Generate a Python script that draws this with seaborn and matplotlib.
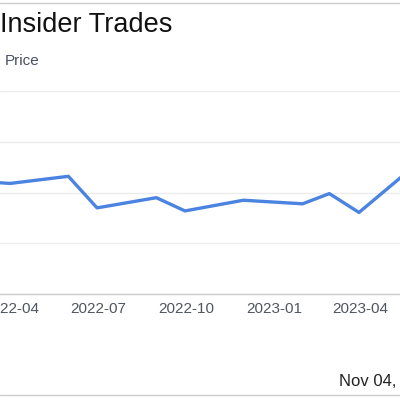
import pandas as pd
import numpy as np
import matplotlib
matplotlib.use("Agg")
import matplotlib.pyplot as plt
import matplotlib.dates as mdates
from matplotlib.lines import Line2D
import seaborn as sns

# Price series (month-end closes)
dates = ["2022-02-28", "2022-03-31", "2022-05-31", "2022-06-30", "2022-08-31",
         "2022-09-30", "2022-11-30", "2023-01-31", "2023-02-28", "2023-03-31",
         "2023-05-31"]
prices = [22.2, 21.8, 23.2, 17.0, 19.0, 16.4, 18.5, 17.8, 19.8, 16.1, 25.7]

price_df = pd.DataFrame({"Date": pd.to_datetime(dates), "Price": prices})

sns.set_style("white")
plt.rcParams['font.family'] = ['Liberation Sans', 'DejaVu Sans']

fig = plt.figure(figsize=(4, 4), dpi=100)
# the visible window is a crop of a wider chart
ax = fig.add_axes([0.0, 0.264, 1.0, 0.509])

sns.lineplot(data=price_df, x="Date", y="Price", ax=ax,
             color="#4a84e0", linewidth=2.4, clip_on=True)

# x range of the visible crop
base = mdates.date2num(pd.Timestamp("2022-04-01"))
ax.set_xlim(base - 11 / 0.956, base + 389 / 0.956)
ax.set_ylim(0, 40)

ax.xaxis.set_major_locator(mdates.MonthLocator(bymonth=[1, 4, 7, 10]))
ax.xaxis.set_major_formatter(mdates.DateFormatter("%Y-%m"))
ax.set_yticks([0, 10, 20, 30, 40])
ax.set_yticklabels([])
ax.tick_params(axis="y", length=0)
ax.tick_params(axis="x", length=4, width=1, color="#cccccc",
               labelsize=11, labelcolor="#505660", pad=1.5)
ax.grid(axis="y", color="#ececec", linewidth=1)
ax.set_axisbelow(True)
ax.set_xlabel("")
ax.set_ylabel("")
for side in ["left", "right", "top"]:
    ax.spines[side].set_visible(False)
ax.spines["bottom"].set_color("#cccccc")
ax.spines["bottom"].set_linewidth(1)

fig.text(0.0, 0.937, "Insider Trades", fontsize=19.5, color="#111111",
         ha="left", va="center")
fig.text(0.012, 0.848, "Price", fontsize=11, color="#4a5060",
         ha="left", va="center")
fig.text(0.847, 0.045, "Nov 04,", fontsize=12, color="#222222",
         ha="left", va="center")

fig.add_artist(Line2D([0, 1], [0.992, 0.992], color="#cccccc", linewidth=1))
fig.add_artist(Line2D([0, 1], [0.012, 0.012], color="#cccccc", linewidth=1))

fig.savefig("out.png", dpi=100)
